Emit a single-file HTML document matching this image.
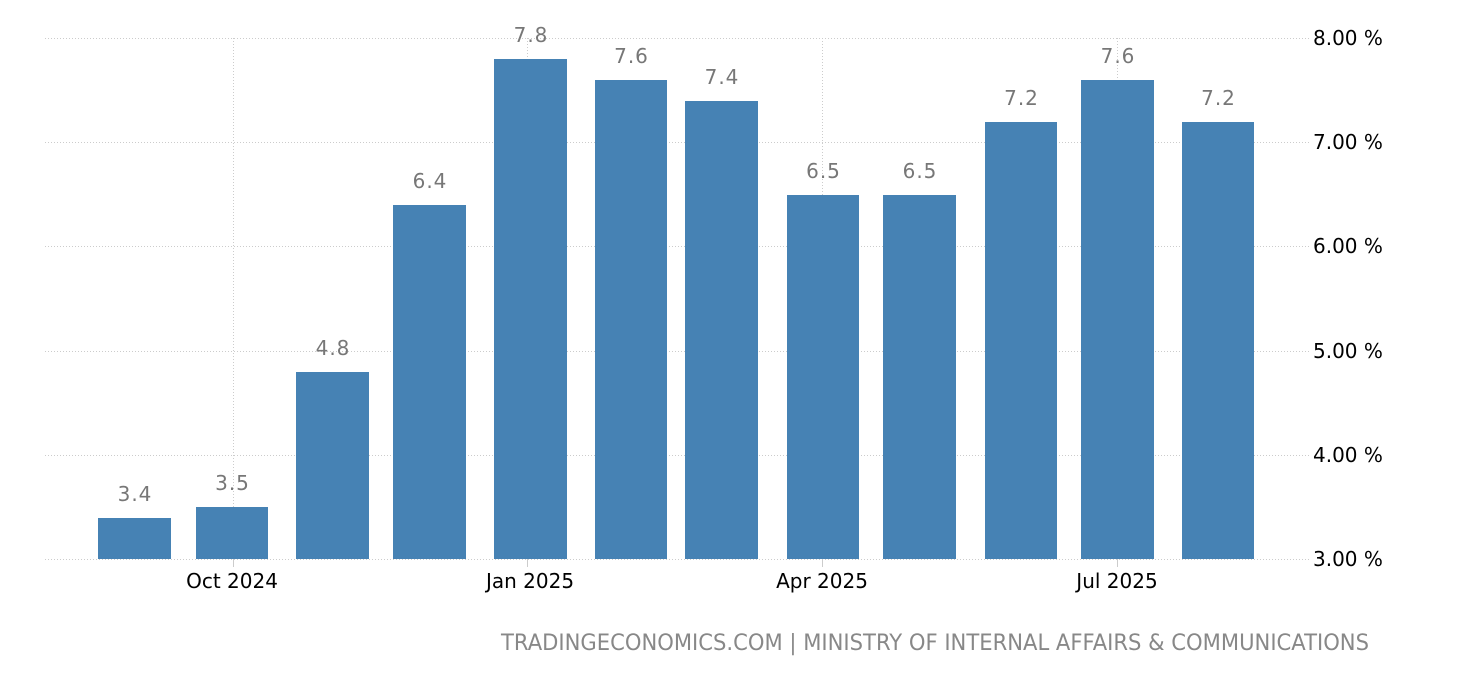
<!DOCTYPE html>
<html><head><meta charset="utf-8"><style>
html,body{margin:0;padding:0;background:#fff;}
svg{display:block;}
text{font-family:"DejaVu Sans","Liberation Sans",sans-serif;}
</style></head><body>
<svg width="1460" height="680" viewBox="0 0 1460 680" xmlns="http://www.w3.org/2000/svg">
<g stroke="#ccc" stroke-width="1" stroke-dasharray="1,2">
<line x1="45" y1="38.5" x2="1309" y2="38.5"/>
<line x1="45" y1="142.5" x2="1309" y2="142.5"/>
<line x1="45" y1="246.5" x2="1309" y2="246.5"/>
<line x1="45" y1="351.5" x2="1309" y2="351.5"/>
<line x1="45" y1="455.5" x2="1309" y2="455.5"/>
<line x1="45" y1="559.5" x2="1309" y2="559.5"/>
<line x1="233.5" y1="38" x2="233.5" y2="559"/>
<line x1="527.5" y1="38" x2="527.5" y2="559"/>
<line x1="822.5" y1="38" x2="822.5" y2="559"/>
<line x1="1117.5" y1="38" x2="1117.5" y2="559"/>
</g>
<g stroke="#ccc" stroke-width="1">
<line x1="233.5" y1="559" x2="233.5" y2="567"/>
<line x1="527.5" y1="559" x2="527.5" y2="567"/>
<line x1="822.5" y1="559" x2="822.5" y2="567"/>
<line x1="1117.5" y1="559" x2="1117.5" y2="567"/>
</g>
<g fill="#4682b4">
<rect x="98" y="518" width="73" height="41"/>
<rect x="196" y="507" width="72" height="52"/>
<rect x="296" y="372" width="73" height="187"/>
<rect x="393" y="205" width="73" height="354"/>
<rect x="494" y="59" width="73" height="500"/>
<rect x="595" y="80" width="72" height="479"/>
<rect x="685" y="101" width="73" height="458"/>
<rect x="787" y="195" width="72" height="364"/>
<rect x="883" y="195" width="73" height="364"/>
<rect x="985" y="122" width="72" height="437"/>
<rect x="1081" y="80" width="73" height="479"/>
<rect x="1182" y="122" width="72" height="437"/>
</g>
<g fill="#777" font-size="20" text-anchor="middle" letter-spacing="1">
<text x="135" y="501">3.4</text>
<text x="232.5" y="490">3.5</text>
<text x="333" y="355">4.8</text>
<text x="430" y="188">6.4</text>
<text x="531" y="42">7.8</text>
<text x="631.5" y="63">7.6</text>
<text x="722" y="84">7.4</text>
<text x="823.5" y="178">6.5</text>
<text x="920" y="178">6.5</text>
<text x="1021.5" y="105">7.2</text>
<text x="1118" y="63">7.6</text>
<text x="1218.5" y="105">7.2</text>
</g>
<g fill="#000" font-size="20">
<text x="1313" y="45">8.00 %</text>
<text x="1313" y="149">7.00 %</text>
<text x="1313" y="253">6.00 %</text>
<text x="1313" y="358">5.00 %</text>
<text x="1313" y="462">4.00 %</text>
<text x="1313" y="566">3.00 %</text>
</g>
<g fill="#000" font-size="20" text-anchor="middle">
<text x="232" y="588">Oct 2024</text>
<text x="530" y="588">Jan 2025</text>
<text x="822" y="588">Apr 2025</text>
<text x="1117" y="588">Jul 2025</text>
</g>
<text x="1369" y="650" fill="#888" font-size="22" text-anchor="end" textLength="868" lengthAdjust="spacingAndGlyphs">TRADINGECONOMICS.COM | MINISTRY OF INTERNAL AFFAIRS &amp; COMMUNICATIONS</text>
</svg>
</body></html>
